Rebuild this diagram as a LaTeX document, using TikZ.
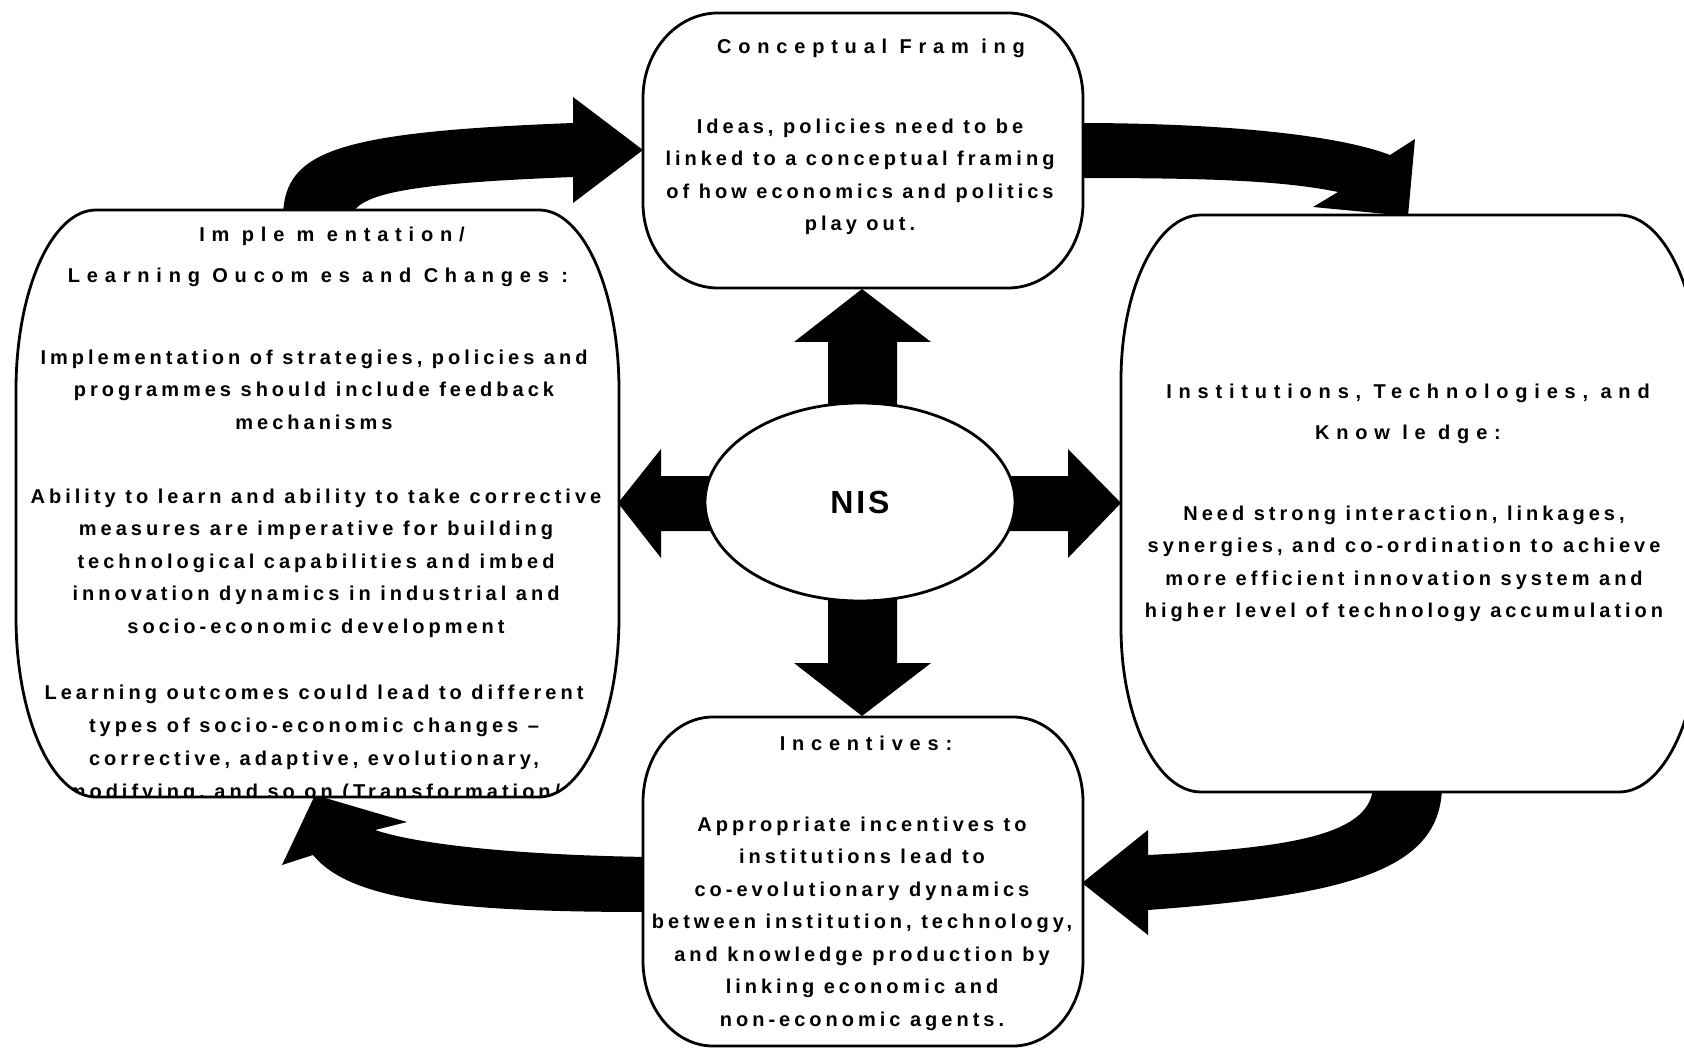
\documentclass[tikz,border=0pt]{standalone}
\usepackage{fontspec}
\setmainfont{Liberation Sans}
\newfontfamily\bodyfont[LetterSpace=20]{Liberation Sans}
\newfontfamily\headfont[LetterSpace=34]{Liberation Sans}
\newfontfamily\hubfont[LetterSpace=9]{Liberation Sans}
\usetikzlibrary{shapes.geometric}

% rectangle with quarter-ellipse corners: x1, y1, x2, y2, rx, ry
\newcommand\softbox[6]{%
  (#1+#5,#2) -- (#3-#5,#2)
  .. controls (#3-0.4477*#5,#2) and (#3,#2+0.4477*#6) .. (#3,#2+#6)
  -- (#3,#4-#6)
  .. controls (#3,#4-0.4477*#6) and (#3-0.4477*#5,#4) .. (#3-#5,#4)
  -- (#1+#5,#4)
  .. controls (#1+0.4477*#5,#4) and (#1,#4-0.4477*#6) .. (#1,#4-#6)
  -- (#1,#2+#6)
  .. controls (#1,#2+0.4477*#6) and (#1+0.4477*#5,#2) .. (#1+#5,#2) -- cycle}

\begin{document}
\begin{tikzpicture}[x=1pt,y=-1pt,
  boxline/.style={draw=black,line width=2.8pt,fill=white},
  flow/.style={fill=black,draw=none},
  bodytext/.style={font=\bodyfont\bfseries\fontsize{20}{32.5}\selectfont,
    align=center,inner sep=0pt,anchor=north},
  headtext/.style={font=\headfont\bfseries\fontsize{20}{41.5}\selectfont,
    align=center,inner sep=0pt,anchor=north}]

\useasboundingbox (0,0) rectangle (1684,1048);

% --- block arrows radiating from the hub ---
\fill[flow] (828,420) -- (828,342) -- (794,342) -- (862,289) -- (931,342)
  -- (897,342) -- (897,420) -- cycle;
\fill[flow] (828,590) -- (828,663) -- (794,663) -- (862,716) -- (931,663)
  -- (897,663) -- (897,590) -- cycle;
\fill[flow] (720,476) -- (661,476) -- (661,449) -- (618,503) -- (661,558)
  -- (661,531) -- (720,531) -- cycle;
\fill[flow] (1000,476) -- (1068,476) -- (1068,449) -- (1121,503) -- (1068,558)
  -- (1068,531) -- (1000,531) -- cycle;

% --- curved cycle arrows ---
% left box -> conceptual framing
\fill[flow] (283,215) .. controls (285,150) and (340,132) .. (573,123)
  -- (573,97) -- (643,150) -- (573,203) -- (573,177)
  .. controls (420,183) and (360,192) .. (352,215) -- cycle;
% conceptual framing -> institutions
\fill[flow] (1078,123) .. controls (1200,123) and (1330,132) .. (1390,155)
  -- (1415,139) -- (1408,216) -- (1313,207) -- (1338,192)
  .. controls (1280,180) and (1200,178) .. (1078,178) -- cycle;
% institutions -> incentives
\fill[flow] (1442,785) .. controls (1442,870) and (1350,895) .. (1148,910)
  -- (1148,935) -- (1082,883) -- (1148,830) -- (1148,855)
  .. controls (1290,848) and (1373,835) .. (1373,785) -- cycle;
% incentives -> left box
\fill[flow] (648,857) .. controls (520,855) and (420,845) .. (375,830)
  -- (407,822) -- (315,795) -- (282,865) -- (313,855)
  .. controls (350,900) and (450,912) .. (648,912) -- cycle;

% --- boxes ---
\draw[boxline] \softbox{643}{13}{1083}{288}{75}{85};
\draw[boxline] \softbox{16}{210}{619}{797}{80}{180};
\draw[boxline] \softbox{1121}{215}{1699}{792}{80}{165};
\draw[boxline] \softbox{643}{717}{1083}{1046}{70}{85};

% --- hub ---
\node[ellipse,draw=black,line width=2.8pt,fill=white,
  minimum width=310pt,minimum height=198pt,inner sep=0pt,
  font=\hubfont\bfseries\fontsize{32}{36}\selectfont] (hub) at (860,502) {NIS};

% --- texts: conceptual framing ---
\node[headtext] (frameHead) at (871,38.5) {Conceptual Fram ing};
\node[bodytext] (frameBody) at (860,118.5) {Ideas, policies need to be\\
  linked to a conceptual framing\\ of how economics and politics\\ play out.};

% --- texts: implementation / learning ---
\node[headtext] (implHeadA) at (332,226.5) {Im ple m entation/};
\node[headtext] (implHeadB) at (318,268) {Learning Oucom es and Changes :};
\node[bodytext] (implA) at (314,349.5) {Implementation of strategies, policies and\\
  programmes should include feedback\\ mechanisms};
\node[bodytext] (implB) at (316,488.5) {Ability to learn and ability to take corrective\\
  measures are imperative for building\\ technological capabilities and imbed\\
  innovation dynamics in industrial and\\ socio-economic development};
\begin{scope}
  \clip \softbox{16}{210}{619}{797}{80}{180};
  \clip (0,0) rectangle (1684,795);
  \node[bodytext,font=\bodyfont\bfseries\fontsize{20}{33}\selectfont]
    (implC) at (314,684.5) {Learning outcomes could lead to different\\
    types of socio-economic changes \textendash\\ corrective, adaptive, evolutionary,\\
    modifying, and so on (Transformation/};
\end{scope}

% --- texts: institutions ---
\node[headtext] (instHead) at (1408,383.5) {Institutions, Technologies, and\\ Know le dge:};
\node[bodytext] (instBody) at (1404,505.5) {Need strong interaction, linkages,\\
  synergies, and co-ordination to achieve\\ more efficient innovation system and\\
  higher level of technology accumulation};

% --- texts: incentives ---
\node[headtext] (incHead) at (866,735.5) {Incentives:};
\node[bodytext] (incBody) at (862,816.5) {Appropriate incentives to\\ institutions lead to\\
  co-evolutionary dynamics\\ between institution, technology,\\
  and knowledge production by\\ linking economic and\\ non-economic agents.};

\end{tikzpicture}
\end{document}
